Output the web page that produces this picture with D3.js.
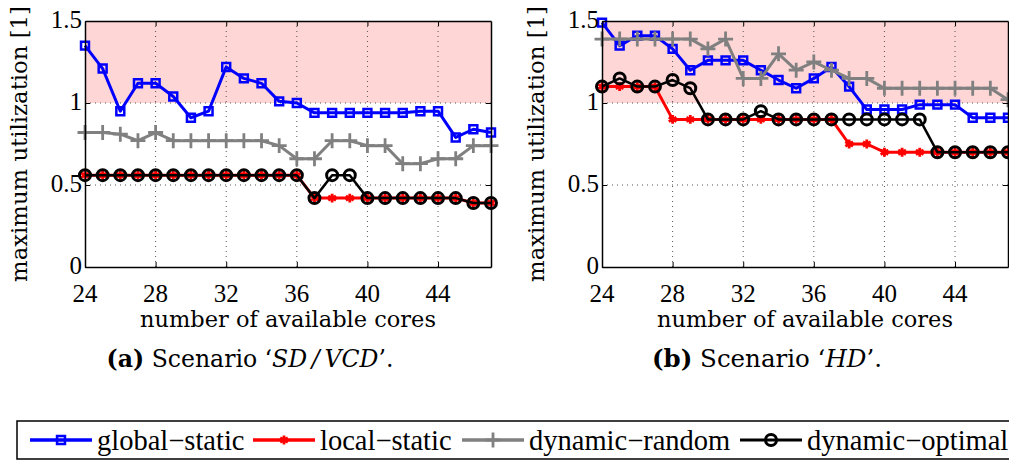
<!DOCTYPE html>
<html>
<head>
<meta charset="utf-8">
<style>
  body { margin: 0; background: #fff; }
  text { font-family: "Liberation Serif", serif; fill: #000; }
  .pal { font-family: "DejaVu Serif", serif; }
</style>
</head>
<body>
<div id="chart"></div>
<script src="https://d3js.org/d3.v7.min.js"></script>
<script>
// number of available cores
var cores = [24, 25, 26, 27, 28, 29, 30, 31, 32, 33, 34, 35, 36, 37, 38, 39, 40, 41, 42, 43, 44, 45, 46, 47];
var xTicks = [24, 28, 32, 36, 40, 44];
var yTicks = [0, 0.5, 1, 1.5];
var yTickLabels = ["0", "0.5", "1", "1.5"];

// scenario SD / VCD
var globalA  = [1.35, 1.21, 0.95, 1.12, 1.12, 1.04, 0.91, 0.95, 1.22, 1.15, 1.12, 1.01, 1.00, 0.94, 0.94, 0.94, 0.94, 0.94, 0.94, 0.95, 0.95, 0.79, 0.84, 0.82];
var localA   = [0.56, 0.56, 0.56, 0.56, 0.56, 0.56, 0.56, 0.56, 0.56, 0.56, 0.56, 0.56, 0.56, 0.42, 0.42, 0.42, 0.42, 0.42, 0.42, 0.42, 0.42, 0.42, 0.39, 0.39];
var randomA  = [0.82, 0.82, 0.81, 0.77, 0.82, 0.77, 0.77, 0.77, 0.77, 0.77, 0.77, 0.74, 0.66, 0.66, 0.77, 0.77, 0.74, 0.74, 0.63, 0.63, 0.66, 0.66, 0.74, 0.74];
var optimalA = [0.56, 0.56, 0.56, 0.56, 0.56, 0.56, 0.56, 0.56, 0.56, 0.56, 0.56, 0.56, 0.56, 0.42, 0.56, 0.56, 0.42, 0.42, 0.42, 0.42, 0.42, 0.42, 0.39, 0.39];

// scenario HD
var globalB  = [1.49, 1.35, 1.41, 1.41, 1.33, 1.20, 1.26, 1.26, 1.26, 1.20, 1.14, 1.09, 1.15, 1.22, 1.10, 0.96, 0.96, 0.96, 0.99, 0.99, 0.99, 0.91, 0.91, 0.91];
var localB   = [1.10, 1.10, 1.10, 1.10, 0.90, 0.90, 0.90, 0.90, 0.90, 0.90, 0.90, 0.90, 0.90, 0.90, 0.75, 0.75, 0.70, 0.70, 0.70, 0.70, 0.70, 0.70, 0.70, 0.70];
var randomB  = [1.39, 1.39, 1.39, 1.39, 1.39, 1.39, 1.33, 1.39, 1.15, 1.15, 1.30, 1.20, 1.25, 1.20, 1.15, 1.15, 1.09, 1.09, 1.09, 1.09, 1.09, 1.09, 1.09, 1.02];
var optimalB = [1.10, 1.15, 1.10, 1.10, 1.14, 1.09, 0.90, 0.90, 0.90, 0.95, 0.90, 0.90, 0.90, 0.90, 0.90, 0.90, 0.90, 0.90, 0.90, 0.70, 0.70, 0.70, 0.70, 0.70];

var seriesNames = ["global\u2212static", "local\u2212static", "dynamic\u2212random", "dynamic\u2212optimal"];

var width = 1009, height = 462;

var svg = d3.select("#chart").append("svg")
    .attr("width", width)
    .attr("height", height);

// series styles
var styles = [
    {color: "#0000ff", width: 3,   symbol: d3.symbolSquare2,  size: 80, sw: 2.5},
    {color: "#ff0000", width: 3,   symbol: d3.symbolAsterisk, size: 55, sw: 2.8},
    {color: "#808080", width: 3,   symbol: d3.symbolPlus,     size: 75, sw: 2.8},
    {color: "#000000", width: 2.5, symbol: d3.symbolCircle,   size: 95, sw: 3}
];

// scale font size so a text gets a given width
function fitWidth(sel, target) {
    var size = +sel.attr("font-size");
    var w = sel.node().getComputedTextLength();
    if (w > 0) sel.attr("font-size", (size * target / w).toFixed(2));
}

function drawPanel(left, values, caption, capWidth) {
    var x = d3.scaleLinear().domain([24, 47]).range([left, left + 406]);
    var y = d3.scaleLinear().domain([0, 1.5]).range([267, 21]);
    var g = svg.append("g");

    // overload region
    g.append("rect")
        .attr("x", x(24)).attr("y", y(1.5))
        .attr("width", x(47) - x(24)).attr("height", y(1) - y(1.5))
        .attr("fill", "#ffd6d6");

    // dotted grid
    g.selectAll(".gx").data(xTicks.slice(1)).enter().append("line")
        .attr("x1", function(d) { return x(d); }).attr("x2", function(d) { return x(d); })
        .attr("y1", y(0)).attr("y2", y(1.5))
        .attr("stroke", "#555").attr("stroke-width", 1).attr("stroke-dasharray", "1,4");
    g.selectAll(".gy").data(yTicks.slice(1, 3)).enter().append("line")
        .attr("x1", x(24)).attr("x2", x(47))
        .attr("y1", function(d) { return y(d); }).attr("y2", function(d) { return y(d); })
        .attr("stroke", "#555").attr("stroke-width", 1).attr("stroke-dasharray", "1,4");

    // series
    values.forEach(function(vals, i) {
        var s = styles[i];
        var line = d3.line()
            .x(function(d, j) { return x(cores[j]); })
            .y(function(d) { return y(d); });
        g.append("path")
            .datum(vals)
            .attr("d", line)
            .attr("fill", "none")
            .attr("stroke", s.color)
            .attr("stroke-width", s.width)
            .attr("stroke-linejoin", "round");
        g.selectAll(".m" + i).data(vals).enter().append("path")
            .attr("transform", function(d, j) { return "translate(" + x(cores[j]) + "," + y(d) + ")"; })
            .attr("d", d3.symbol().type(s.symbol).size(s.size))
            .attr("fill", "none")
            .attr("stroke", s.color)
            .attr("stroke-width", s.sw);
    });

    // axes box with inward ticks
    g.append("g").attr("transform", "translate(0," + y(0) + ")")
        .call(d3.axisBottom(x).tickValues(xTicks).tickSizeInner(-5).tickSizeOuter(0).tickFormat(""));
    g.append("g").attr("transform", "translate(0," + y(1.5) + ")")
        .call(d3.axisTop(x).tickValues(xTicks).tickSizeInner(-5).tickSizeOuter(0).tickFormat(""));
    g.append("g").attr("transform", "translate(" + x(24) + ",0)")
        .call(d3.axisLeft(y).tickValues(yTicks).tickSizeInner(-5).tickSizeOuter(0).tickFormat(""));
    g.append("g").attr("transform", "translate(" + x(47) + ",0)")
        .call(d3.axisRight(y).tickValues(yTicks).tickSizeInner(-5).tickSizeOuter(0).tickFormat(""));
    g.selectAll(".domain").attr("stroke", "#000").attr("stroke-width", 1.5);
    g.selectAll(".tick line").attr("stroke", "#000").attr("stroke-width", 1);

    // tick labels
    g.selectAll(".xl").data(xTicks).enter().append("text")
        .attr("x", function(d) { return x(d); })
        .attr("y", 302)
        .attr("text-anchor", "middle")
        .attr("font-size", 25)
        .text(function(d) { return d; });
    g.selectAll(".yl").data(yTicks).enter().append("text")
        .attr("x", x(24) - 3)
        .attr("y", function(d) { return y(d) + 7; })
        .attr("text-anchor", "end")
        .attr("font-size", 25)
        .text(function(d, i) { return yTickLabels[i]; });

    // axis titles
    var xt = g.append("text")
        .attr("class", "pal")
        .attr("x", x(24) + 203).attr("y", 327)
        .attr("text-anchor", "middle")
        .attr("font-size", 22)
        .text("number of available cores");
    fitWidth(xt, 296);
    var yt = g.append("text")
        .attr("class", "pal")
        .attr("transform", "translate(" + (left - 58) + ",144) rotate(-90)")
        .attr("text-anchor", "middle")
        .attr("font-size", 22)
        .text("maximum utilization [1]");
    fitWidth(yt, 276);

    // sub caption
    var c = g.append("text")
        .attr("class", "pal")
        .attr("x", x(24) + 165).attr("y", 367)
        .attr("text-anchor", "middle")
        .attr("font-size", 22);
    c.append("tspan").attr("font-weight", "bold").text(caption[0]);
    c.append("tspan").text(" Scenario \u2018");
    c.append("tspan").attr("font-style", "italic").text(caption[1]);
    c.append("tspan").text("\u2019.");
    fitWidth(c, capWidth);
}

drawPanel(85, [globalA, localA, randomA, optimalA], ["(a)", "SD\u2009/\u2009VCD"], 287);
drawPanel(602, [globalB, localB, randomB, optimalB], ["(b)", "HD"], 230);

// legend
var legend = svg.append("g");
legend.append("rect")
    .attr("x", 17).attr("y", 421)
    .attr("width", 1000).attr("height", 38)
    .attr("fill", "#fff").attr("stroke", "#000").attr("stroke-width", 1.5);

var legendX = [30, 253, 462, 740];
seriesNames.forEach(function(name, i) {
    var s = styles[i];
    var lx = legendX[i];
    legend.append("line")
        .attr("x1", lx).attr("x2", lx + 62)
        .attr("y1", 440).attr("y2", 440)
        .attr("stroke", s.color).attr("stroke-width", s.width + 0.5);
    legend.append("path")
        .attr("transform", "translate(" + (lx + 31) + ",440)")
        .attr("d", d3.symbol().type(s.symbol).size(s.size))
        .attr("fill", "none")
        .attr("stroke", s.color)
        .attr("stroke-width", s.sw);
    legend.append("text")
        .attr("x", lx + 67).attr("y", 450)
        .attr("font-size", 28.5)
        .text(name);
});
</script>
</body>
</html>
